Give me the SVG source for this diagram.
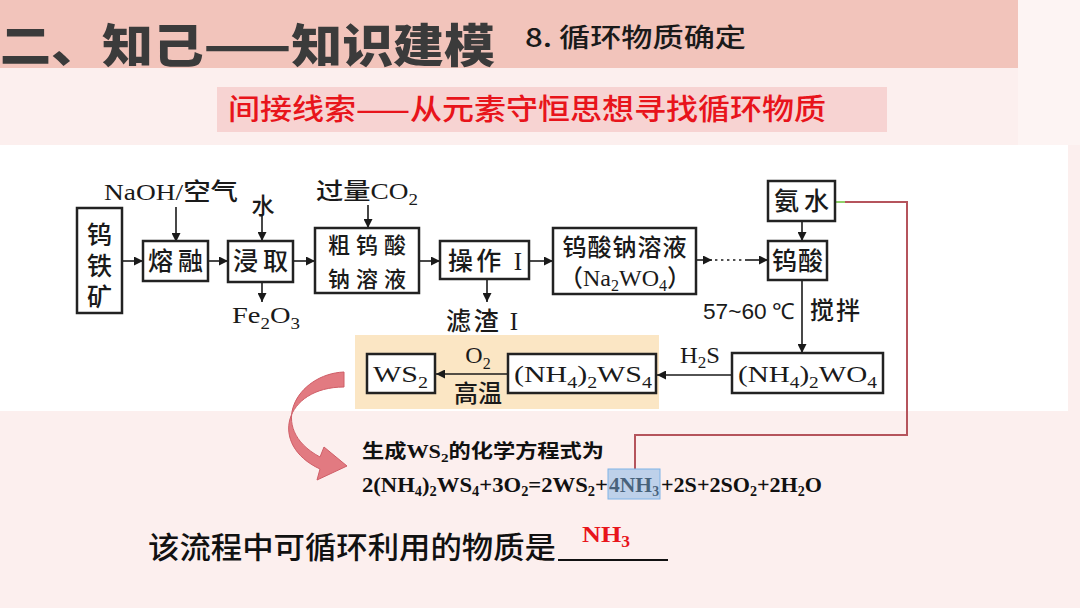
<svg xmlns="http://www.w3.org/2000/svg" width="1080" height="608" viewBox="0 0 1080 608">
<defs>
<marker id="ah" viewBox="0 0 10 10" refX="10" refY="5" markerWidth="9" markerHeight="9" markerUnits="userSpaceOnUse" orient="auto">
<path d="M0,0 L10,5 L0,10 z" fill="#1a1a1a"/>
</marker>
<style>
.box{fill:#fff;stroke:#222;stroke-width:2.5}
.ln{stroke:#1a1a1a;stroke-width:1.6;fill:none}
.cn{font-family:"Noto Sans CJK SC",sans-serif;font-weight:500;fill:#1a1a1a}
.sf{font-family:"Liberation Serif","Noto Sans CJK SC",serif;fill:#1a1a1a}
.fs{font-size:25px}
.sub{font-size:16px}
.eq{font-family:"Liberation Serif",serif;font-weight:700;font-size:22px;fill:#111}
.es{font-size:14px}
</style>
</defs>
<rect width="1080" height="608" fill="#fcefee"/>
<rect x="1018" y="0" width="62" height="145" fill="#fdf4f3"/>
<rect x="0" y="0" width="1018" height="68" fill="#f2c4bb"/>
<text x="0" y="62" font-family="Noto Sans CJK SC,sans-serif" font-weight="900" font-size="46" fill="#3b3b3b" textLength="495" lengthAdjust="spacingAndGlyphs">二、知己——知识建模</text>
<text x="525" y="47" font-family="Noto Sans CJK SC,sans-serif" font-weight="500" font-size="26" fill="#1a1a1a" textLength="221" lengthAdjust="spacingAndGlyphs">8. 循环物质确定</text>
<rect x="217" y="87" width="670" height="45" fill="#f7d3d2"/>
<text x="228" y="120" font-family="Noto Sans CJK SC,sans-serif" font-weight="500" font-size="29" fill="#e8141b" textLength="598" lengthAdjust="spacingAndGlyphs">间接线索——从元素守恒思想寻找循环物质</text>
<rect x="0" y="145" width="1068" height="266" fill="#ffffff"/>
<rect x="355" y="335" width="304" height="74" fill="#fbe6c4"/>

<g id="connectors">
<line class="ln" x1="122" y1="261" x2="143" y2="261" marker-end="url(#ah)"/>
<line class="ln" x1="208" y1="261" x2="228" y2="261" marker-end="url(#ah)"/>
<line class="ln" x1="293" y1="261" x2="315" y2="261" marker-end="url(#ah)"/>
<line class="ln" x1="419" y1="261" x2="440" y2="261" marker-end="url(#ah)"/>
<line class="ln" x1="529" y1="261" x2="553" y2="261" marker-end="url(#ah)"/>
<line class="ln" x1="697" y1="260" x2="712" y2="260" marker-end="url(#ah)"/>
<line class="ln" x1="715" y1="260" x2="744" y2="260" stroke-width="2.4" stroke-dasharray="2.4 3.6"/>
<line class="ln" x1="745" y1="260" x2="768" y2="260" marker-end="url(#ah)"/>
<line class="ln" x1="176" y1="207" x2="176" y2="242" marker-end="url(#ah)"/>
<line class="ln" x1="262" y1="216" x2="262" y2="241" marker-end="url(#ah)"/>
<line class="ln" x1="262" y1="282" x2="262" y2="302" marker-end="url(#ah)"/>
<line class="ln" x1="368" y1="205" x2="368" y2="228" marker-end="url(#ah)"/>
<line class="ln" x1="487" y1="279" x2="487" y2="302" marker-end="url(#ah)"/>
<line class="ln" x1="802" y1="221" x2="802" y2="241" marker-end="url(#ah)"/>
<line class="ln" x1="802" y1="280" x2="802" y2="353" marker-end="url(#ah)"/>
<line class="ln" x1="732" y1="375" x2="657" y2="375" marker-end="url(#ah)"/>
<line class="ln" x1="508" y1="374" x2="436" y2="374" marker-end="url(#ah)"/>
<polyline points="836,202 907,202 907,435 635,435 635,469" fill="none" stroke="#b5545c" stroke-width="2"/>
<line x1="836" y1="202" x2="845" y2="202" stroke="#8fd06a" stroke-width="2"/>
</g>

<g id="n-wutiekuang">
<rect class="box" x="77" y="208" width="45" height="105"/>
<text class="cn" x="99.5" y="222" font-size="25" writing-mode="vertical-rl" letter-spacing="6">钨铁矿</text>
</g>
<g id="n-rongrong">
<rect class="box" x="143" y="241" width="65" height="40"/>
<text class="cn fs" x="148" y="270" textLength="55">熔融</text>
</g>
<g id="n-naoh">
<text class="sf" x="104" y="200" font-size="24" textLength="134" lengthAdjust="spacingAndGlyphs">NaOH/<tspan class="cn">空气</tspan></text>
</g>
<g id="n-jinqu">
<rect class="box" x="228" y="241" width="65" height="41"/>
<text class="cn fs" x="233" y="270" textLength="55">浸取</text>
</g>
<g id="n-shui">
<text class="cn" x="263" y="214" font-size="23" text-anchor="middle">水</text>
</g>
<g id="n-fe2o3">
<text class="sf" x="232" y="323" font-size="24" textLength="68" lengthAdjust="spacingAndGlyphs">Fe<tspan class="sub" dy="6">2</tspan><tspan dy="-6">O</tspan><tspan class="sub" dy="6">3</tspan></text>
</g>
<g id="n-cuwusuan">
<rect class="box" x="315" y="228" width="104" height="65"/>
<text class="cn" font-size="22" text-anchor="middle" letter-spacing="6"><tspan x="370" y="253">粗钨酸</tspan><tspan x="370" y="287">钠溶液</tspan></text>
</g>
<g id="n-co2">
<text class="cn" x="316" y="199" font-size="23" textLength="102" lengthAdjust="spacingAndGlyphs">过量<tspan class="sf">CO</tspan><tspan class="sf sub" dy="6">2</tspan></text>
</g>
<g id="n-caozuo">
<rect class="box" x="440" y="241" width="89" height="38"/>
<text class="cn fs" x="448" y="270" textLength="74">操作 <tspan class="sf">I</tspan></text>
</g>
<g id="n-lvzha">
<text class="cn" x="446" y="330" font-size="25" textLength="72">滤渣 <tspan class="sf">I</tspan></text>
</g>
<g id="n-na2wo4">
<rect class="box" x="553" y="228" width="143" height="66"/>
<text class="cn" font-size="24" text-anchor="middle"><tspan x="625" y="256" letter-spacing="1">钨酸钠溶液</tspan><tspan x="625" y="286" class="sf">（Na<tspan class="sub" dy="5">2</tspan><tspan dy="-5">WO</tspan><tspan class="sub" dy="5">4</tspan><tspan dy="-5">）</tspan></tspan></text>
</g>
<g id="n-anshui">
<rect class="box" x="768" y="181" width="67" height="40"/>
<text class="cn fs" x="774" y="210" textLength="55">氨水</text>
</g>
<g id="n-wusuan">
<rect class="box" x="768" y="241" width="59" height="39"/>
<text class="cn fs" x="772" y="270" textLength="51">钨酸</text>
</g>
<g id="n-cond">
<text x="703" y="319" font-size="22" font-family="Liberation Sans,sans-serif" fill="#1a1a1a" textLength="92" lengthAdjust="spacingAndGlyphs">57~60<tspan font-family="Liberation Serif,serif"> ℃</tspan></text>
<text class="cn" x="810" y="319" font-size="24" textLength="50">搅拌</text>
</g>
<g id="n-nh4wo4">
<rect class="box" x="732" y="353" width="151" height="40"/>
<text class="sf" x="738" y="382" font-size="24" textLength="139" lengthAdjust="spacingAndGlyphs">(NH<tspan class="sub" dy="6">4</tspan><tspan dy="-6">)</tspan><tspan class="sub" dy="6">2</tspan><tspan dy="-6">WO</tspan><tspan class="sub" dy="6">4</tspan></text>
</g>
<g id="n-h2s">
<text class="sf" x="680" y="363" font-size="23" textLength="40" lengthAdjust="spacingAndGlyphs">H<tspan class="sub" dy="5">2</tspan><tspan dy="-5">S</tspan></text>
</g>
<g id="n-nh4ws4">
<rect class="box" x="508" y="354" width="148" height="39"/>
<text class="sf" x="514" y="382" font-size="24" textLength="138" lengthAdjust="spacingAndGlyphs">(NH<tspan class="sub" dy="6">4</tspan><tspan dy="-6">)</tspan><tspan class="sub" dy="6">2</tspan><tspan dy="-6">WS</tspan><tspan class="sub" dy="6">4</tspan></text>
</g>
<g id="n-o2">
<text class="sf" x="478" y="363" font-size="24" text-anchor="middle">O<tspan class="sub" dy="6">2</tspan></text>
<text class="cn" x="478" y="402" font-size="24" text-anchor="middle">高温</text>
</g>
<g id="n-ws2">
<rect class="box" x="367" y="354" width="68" height="39"/>
<text class="sf" x="373" y="382" font-size="24" textLength="55" lengthAdjust="spacingAndGlyphs">WS<tspan class="sub" dy="6">2</tspan></text>
</g>

<g id="curved-arrow">
<path d="M344,372 C297,374 266,428 320,457 L324,447 L347,466 L317,480 L320,469 C268,445 284,387 344,387 Z" fill="#e27a81" stroke="#cf5e67" stroke-width="1"/>
</g>

<g id="equation">
<text x="362" y="458" font-size="19" font-family="Noto Sans CJK SC,sans-serif" font-weight="700" fill="#111" textLength="242" lengthAdjust="spacingAndGlyphs">生成<tspan font-family="Liberation Serif,serif">WS</tspan><tspan font-family="Liberation Serif,serif" font-size="13" dy="4">2</tspan><tspan dy="-4">的化学方程式为</tspan></text>
<text class="eq" x="362" y="492" textLength="246" lengthAdjust="spacingAndGlyphs">2(NH<tspan class="es" dy="4">4</tspan><tspan dy="-4">)</tspan><tspan class="es" dy="4">2</tspan><tspan dy="-4">WS</tspan><tspan class="es" dy="4">4</tspan><tspan dy="-4">+3O</tspan><tspan class="es" dy="4">2</tspan><tspan dy="-4">=2WS</tspan><tspan class="es" dy="4">2</tspan><tspan dy="-4">+</tspan></text>
<text class="eq" x="609" y="492" textLength="50" lengthAdjust="spacingAndGlyphs">4NH<tspan class="es" dy="4">3</tspan></text>
<text class="eq" x="661" y="492" textLength="161" lengthAdjust="spacingAndGlyphs">+2S+2SO<tspan class="es" dy="4">2</tspan><tspan dy="-4">+2H</tspan><tspan class="es" dy="4">2</tspan><tspan dy="-4">O</tspan></text>
<rect x="608" y="469" width="52" height="30" fill="#7fb3e6" fill-opacity="0.5" stroke="#7fb3e6" stroke-width="1"/>
</g>

<g id="question">
<text x="148" y="558" font-family="Noto Sans CJK SC,sans-serif" font-weight="500" font-size="30" fill="#111" textLength="408" lengthAdjust="spacingAndGlyphs">该流程中可循环利用的物质是</text>
<line x1="558" y1="560" x2="668" y2="560" stroke="#111" stroke-width="2"/>
<text x="582" y="542" font-family="Liberation Serif,serif" font-weight="700" font-size="24" fill="#e8141b" textLength="48" lengthAdjust="spacingAndGlyphs">NH<tspan font-size="16" dy="5">3</tspan></text>
</g>
</svg>
